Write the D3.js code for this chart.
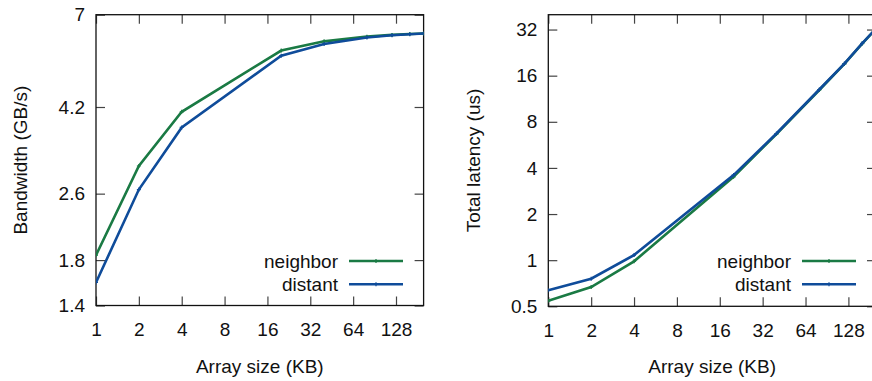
<!DOCTYPE html>
<html>
<head>
<meta charset="utf-8">
<script src="https://cdn.jsdelivr.net/npm/d3@7/dist/d3.min.js"></script>
<style>
  html, body { margin: 0; padding: 0; background: #fff; }
  svg text { font-family: "Liberation Sans", Arial, Helvetica, sans-serif; fill: #111; }
</style>
</head>
<body>
<svg id="chart" width="872" height="381"></svg>
<script>
// Array sizes (KB) at which both transfers were measured
const sizesKB = [1, 2, 4, 20, 40, 80, 120, 160, 200];
const xTicks = [1, 2, 4, 8, 16, 32, 64, 128];

// Bandwidth (GB/s)
const bwNeighbor = [1.85, 3.03, 4.09, 5.74, 6.04, 6.20, 6.26, 6.29, 6.31];
const bwDistant  = [1.59, 2.66, 3.75, 5.58, 5.95, 6.17, 6.25, 6.28, 6.31];
const bwTicks = [1.4, 1.8, 2.6, 4.2, 7];

// Total latency (us)
const latNeighbor = [0.543, 0.668, 0.983, 3.50, 6.65, 12.9, 19.1, 25.9, 32.3];
const latDistant  = [0.636, 0.757, 1.08, 3.59, 6.71, 13.0, 19.2, 26.0, 32.5];
const latTicks = [0.5, 1, 2, 4, 8, 16, 32];

const seriesNames = ["neighbor", "distant"];
const colors = { neighbor: "#1a7a44", distant: "#0f4c9a" };

const svg = d3.select("#chart");
const FONT = 19;
const TICK = 9;

function panel(opts) {
  const { left, right, top, bottom, yDomain, yTicks, yBase, yLabel, series, yFmt, legend } = opts;
  const g = svg.append("g");

  const x = d3.scaleLog().base(2).domain([1, 200]).range([left, right]);
  const y = d3.scaleLog().base(yBase).domain(yDomain).range([bottom, top]);

  const clipId = "clip" + Math.round(left);
  g.append("clipPath").attr("id", clipId)
    .append("rect").attr("x", left).attr("y", top)
    .attr("width", right - left).attr("height", bottom - top);

  const styleAxis = sel => {
    sel.select(".domain").remove();
    sel.selectAll(".tick line").attr("stroke", "#444").attr("stroke-width", 1.2);
    sel.selectAll("text").attr("font-size", FONT).attr("fill", "#111")
      .attr("font-family", "Liberation Sans, Arial, sans-serif");
  };

  g.append("g").attr("transform", `translate(0,${bottom})`)
    .call(d3.axisBottom(x).tickValues(xTicks).tickFormat(d3.format("d"))
      .tickSizeInner(-TICK).tickSizeOuter(0).tickPadding(17))
    .call(styleAxis);
  g.append("g").attr("transform", `translate(0,${top})`)
    .call(d3.axisTop(x).tickValues(xTicks).tickFormat("")
      .tickSizeInner(-TICK).tickSizeOuter(0))
    .call(styleAxis);
  g.append("g").attr("transform", `translate(${left},0)`)
    .call(d3.axisLeft(y).tickValues(yTicks).tickFormat(yFmt)
      .tickSizeInner(-TICK).tickSizeOuter(0).tickPadding(11))
    .call(styleAxis);
  g.append("g").attr("transform", `translate(${right},0)`)
    .call(d3.axisRight(y).tickValues(yTicks).tickFormat("")
      .tickSizeInner(-TICK).tickSizeOuter(0))
    .call(styleAxis);

  // frame
  g.append("rect").attr("x", left).attr("y", top)
    .attr("width", right - left).attr("height", bottom - top)
    .attr("fill", "none").attr("stroke", "#111").attr("stroke-width", 1.3);

  const line = d3.line().x(d => x(d[0])).y(d => y(d[1]));
  const plot = g.append("g").attr("clip-path", `url(#${clipId})`);

  seriesNames.forEach(name => {
    const pts = sizesKB.map((s, i) => [s, series[name][i]]);
    plot.append("path").datum(pts)
      .attr("d", line).attr("fill", "none")
      .attr("stroke", colors[name]).attr("stroke-width", 2.6)
      .attr("stroke-linejoin", "miter");
    plot.selectAll(null).data(pts).enter().append("path")
      .attr("d", d => `M${x(d[0]) - 2},${y(d[1])}h4M${x(d[0])},${y(d[1]) - 2}v4`)
      .attr("stroke", colors[name]).attr("stroke-width", 1.2);
  });

  // legend
  seriesNames.forEach((name, i) => {
    const ly = legend.y + i * 23.3;
    g.append("text").attr("x", legend.textX).attr("y", ly).attr("dy", "0.35em")
      .attr("text-anchor", "end").attr("font-size", FONT).text(name);
    g.append("line").attr("x1", legend.x1).attr("x2", legend.x2)
      .attr("y1", ly).attr("y2", ly)
      .attr("stroke", colors[name]).attr("stroke-width", 2.6);
    const mx = (legend.x1 + legend.x2) / 2;
    g.append("path").attr("d", `M${mx - 2},${ly}h4M${mx},${ly - 2}v4`)
      .attr("stroke", colors[name]).attr("stroke-width", 1.2);
  });

  // axis titles
  g.append("text").attr("x", (left + right) / 2).attr("y", 366).attr("dy", "0.35em")
    .attr("text-anchor", "middle").attr("font-size", FONT).text("Array size (KB)");
  g.append("text")
    .attr("transform", `translate(${opts.yLabelX},${(top + bottom) / 2}) rotate(-90)`)
    .attr("dy", "0.35em").attr("text-anchor", "middle").attr("font-size", FONT).text(yLabel);
}

panel({
  left: 96, right: 423.6, top: 14.7, bottom: 305.5,
  yDomain: [1.4, 7], yTicks: bwTicks, yBase: 10, yFmt: d3.format(""),
  yLabel: "Bandwidth (GB/s)", yLabelX: 20,
  series: { neighbor: bwNeighbor, distant: bwDistant },
  legend: { textX: 338, x1: 349, x2: 403, y: 261 }
});

panel({
  left: 548.3, right: 876, top: 14.7, bottom: 306.3,
  yDomain: [0.5, 40], yTicks: latTicks, yBase: 2, yFmt: d3.format(""),
  yLabel: "Total latency (us)", yLabelX: 473,
  series: { neighbor: latNeighbor, distant: latDistant },
  legend: { textX: 791, x1: 802, x2: 856, y: 261 }
});
</script>
</body>
</html>
